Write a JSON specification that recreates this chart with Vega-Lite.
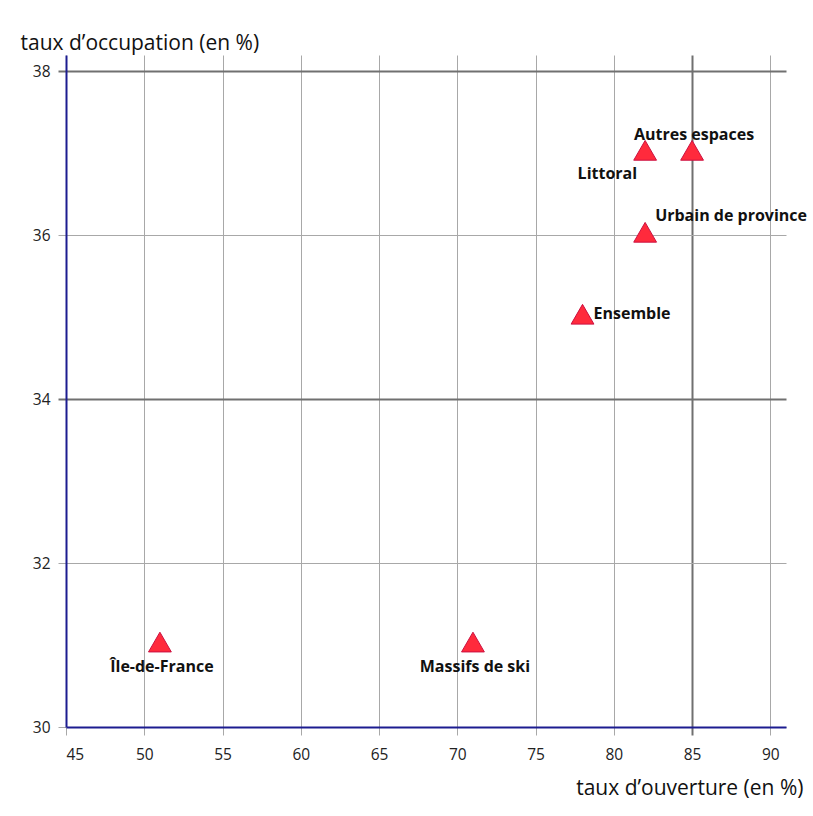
{
  "$schema": "https://vega.github.io/schema/vega-lite/v6.json",
  "width": 720,
  "height": 672,
  "autosize": {"type": "none"},
  "padding": {"left": 66, "top": 55, "right": 27, "bottom": 89},
  "background": "white",
  "config": {
    "font": "Open Sans",
    "view": {"stroke": null},
    "axis": {
      "labelFont": "Open Sans",
      "labelFontSize": 15.5,
      "labelColor": "#222",
      "titleFont": "Open Sans",
      "titleFontSize": 21,
      "titleFontWeight": "normal",
      "titleColor": "#111",
      "domainColor": "#1c1c90",
      "domainWidth": 2,
      "tickSize": 8,
      "grid": true
    }
  },
  "data": {
    "values": [
      {"zone": "Autres espaces", "ouverture": 85, "occupation": 37, "pos": "haut"},
      {"zone": "Littoral", "ouverture": 82, "occupation": 37, "pos": "basgauche"},
      {"zone": "Urbain de province", "ouverture": 82, "occupation": 36, "pos": "hautdroite"},
      {"zone": "Ensemble", "ouverture": 78, "occupation": 35, "pos": "droite"},
      {"zone": "Île-de-France", "ouverture": 51, "occupation": 31, "pos": "bas"},
      {"zone": "Massifs de ski", "ouverture": 71, "occupation": 31, "pos": "bas"}
    ]
  },
  "encoding": {
    "x": {
      "field": "ouverture",
      "type": "quantitative",
      "scale": {"domain": [45, 91], "nice": false, "zero": false},
      "axis": {
        "title": "taux d’ouverture (en %)",
        "values": [45, 50, 55, 60, 65, 70, 75, 80, 85, 90],
        "labelPadding": 12,
        "titleAlign": "right",
        "titleAnchor": null,
        "titleBaseline": "alphabetic",
        "titleX": 737,
        "titleY": 67,
        "gridColor": {"condition": {"test": "datum.value === 85", "value": "#707070"}, "value": "#a8a8a8"},
        "gridWidth": {"condition": {"test": "datum.value === 85", "value": 2}, "value": 1},
        "tickColor": {"condition": {"test": "datum.value === 85", "value": "#707070"}, "value": "#a8a8a8"},
        "tickWidth": {"condition": {"test": "datum.value === 85", "value": 2}, "value": 1}
      }
    },
    "y": {
      "field": "occupation",
      "type": "quantitative",
      "scale": {"domain": [30, 38.2], "nice": false, "zero": false},
      "axis": {
        "title": "taux d’occupation (en %)",
        "values": [30, 32, 34, 36, 38],
        "labelPadding": 8,
        "titleAngle": 0,
        "titleAlign": "left",
        "titleAnchor": null,
        "titleBaseline": "alphabetic",
        "titleX": -46,
        "titleY": -6,
        "gridColor": {"condition": {"test": "datum.value === 34 || datum.value === 38", "value": "#707070"}, "value": "#a8a8a8"},
        "gridWidth": {"condition": {"test": "datum.value === 34 || datum.value === 38", "value": 2}, "value": 1},
        "tickColor": {"condition": {"test": "datum.value === 34 || datum.value === 38", "value": "#707070"}, "value": "#a8a8a8"},
        "tickWidth": {"condition": {"test": "datum.value === 34 || datum.value === 38", "value": 2}, "value": 1}
      }
    }
  },
  "layer": [
    {
      "mark": {"type": "point", "shape": "triangle-up", "filled": true, "size": 520, "fill": "#ff2a3c", "stroke": "#cc1040", "strokeWidth": 1, "opacity": 1, "yOffset": -3}
    },
    {
      "transform": [{"filter": "datum.pos === 'haut'"}],
      "mark": {"type": "text", "fontWeight": "bold", "fontSize": 16, "color": "#111", "align": "center", "baseline": "alphabetic", "dx": 2, "dy": -13},
      "encoding": {"text": {"field": "zone"}}
    },
    {
      "transform": [{"filter": "datum.pos === 'basgauche'"}],
      "mark": {"type": "text", "fontWeight": "bold", "fontSize": 16, "color": "#111", "align": "right", "baseline": "alphabetic", "dx": -8, "dy": 26},
      "encoding": {"text": {"field": "zone"}}
    },
    {
      "transform": [{"filter": "datum.pos === 'hautdroite'"}],
      "mark": {"type": "text", "fontWeight": "bold", "fontSize": 16, "color": "#111", "align": "left", "baseline": "alphabetic", "dx": 10, "dy": -14},
      "encoding": {"text": {"field": "zone"}}
    },
    {
      "transform": [{"filter": "datum.pos === 'droite'"}],
      "mark": {"type": "text", "fontWeight": "bold", "fontSize": 16, "color": "#111", "align": "left", "baseline": "alphabetic", "dx": 11, "dy": 2},
      "encoding": {"text": {"field": "zone"}}
    },
    {
      "transform": [{"filter": "datum.pos === 'bas'"}],
      "mark": {"type": "text", "fontWeight": "bold", "fontSize": 16, "color": "#111", "align": "center", "baseline": "alphabetic", "dx": 2, "dy": 27},
      "encoding": {"text": {"field": "zone"}}
    }
  ]
}
